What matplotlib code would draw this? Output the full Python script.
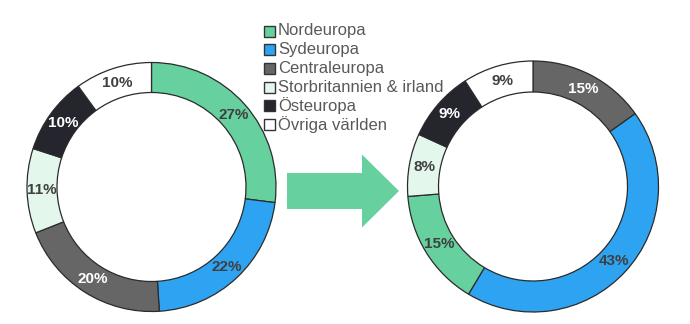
import matplotlib
matplotlib.use("Agg")
import matplotlib.pyplot as plt
from matplotlib.patches import Rectangle, FancyArrow
import numpy as np

plt.rcParams['font.family'] = ['Liberation Sans', 'DejaVu Sans']

categories = ["Nordeuropa", "Sydeuropa", "Centraleuropa",
              "Storbritannien & irland", "Östeuropa", "Övriga världen"]
colors = {"Nordeuropa": "#66D19E", "Sydeuropa": "#2EA3F2", "Centraleuropa": "#666666",
          "Storbritannien & irland": "#E3F7EC", "Östeuropa": "#25252D",
          "Övriga världen": "#FFFFFF"}
label_colors = {"Nordeuropa": "#404040", "Sydeuropa": "#404040", "Centraleuropa": "white",
                "Storbritannien & irland": "#404040", "Östeuropa": "white",
                "Övriga världen": "#404040"}

left_order = ["Nordeuropa", "Sydeuropa", "Centraleuropa",
              "Storbritannien & irland", "Östeuropa", "Övriga världen"]
left_values = [27, 22, 20, 11, 10, 10]

right_order = ["Centraleuropa", "Sydeuropa", "Nordeuropa",
               "Storbritannien & irland", "Östeuropa", "Övriga världen"]
right_values = [15, 43, 15, 8, 9, 9]

W, H = 690, 324
fig = plt.figure(figsize=(W / 100, H / 100), dpi=100)
ax = fig.add_axes([0, 0, 1, 1])
ax.set_xlim(0, W)
ax.set_ylim(0, H)
ax.set_aspect('equal')
ax.axis('off')


def donut(order, values, cx, cy, r, w):
    wedges, _ = ax.pie(values, colors=[colors[c] for c in order], startangle=90,
                       counterclock=False, radius=r, center=(cx, cy), frame=True,
                       wedgeprops=dict(width=w, edgecolor="#2b2b2b", linewidth=0.9))
    for wdg, cat, v in zip(wedges, order, values):
        mid = np.deg2rad((wdg.theta1 + wdg.theta2) / 2)
        rr = r - w / 2
        ax.text(cx + rr * np.cos(mid), cy + rr * np.sin(mid), f"{v}%",
                ha='center', va='center', fontsize=11, fontweight='bold',
                color=label_colors[cat])


donut(left_order, left_values, 151.5, H - 187, 124.5, 30)
donut(right_order, right_values, 533, H - 186.5, 125.5, 31)
ax.set_xlim(0, W)
ax.set_ylim(0, H)
ax.axis('off')

# arrow
ax.add_patch(FancyArrow(287, H - 191, 112, 0, width=36, head_width=73, head_length=37,
                        length_includes_head=True, color="#66D19E", linewidth=0))

# legend
y0 = 31
dy = 18.7
for i, cat in enumerate(categories):
    yc = H - (y0 + i * dy)
    ax.add_patch(Rectangle((263.5, yc - 5.5), 11, 11, facecolor=colors[cat],
                           edgecolor="#333333", linewidth=1.0))
    ax.text(278, yc, cat, ha='left', va='center', fontsize=12, color="#595959")

fig.savefig("out.png", dpi=100)
